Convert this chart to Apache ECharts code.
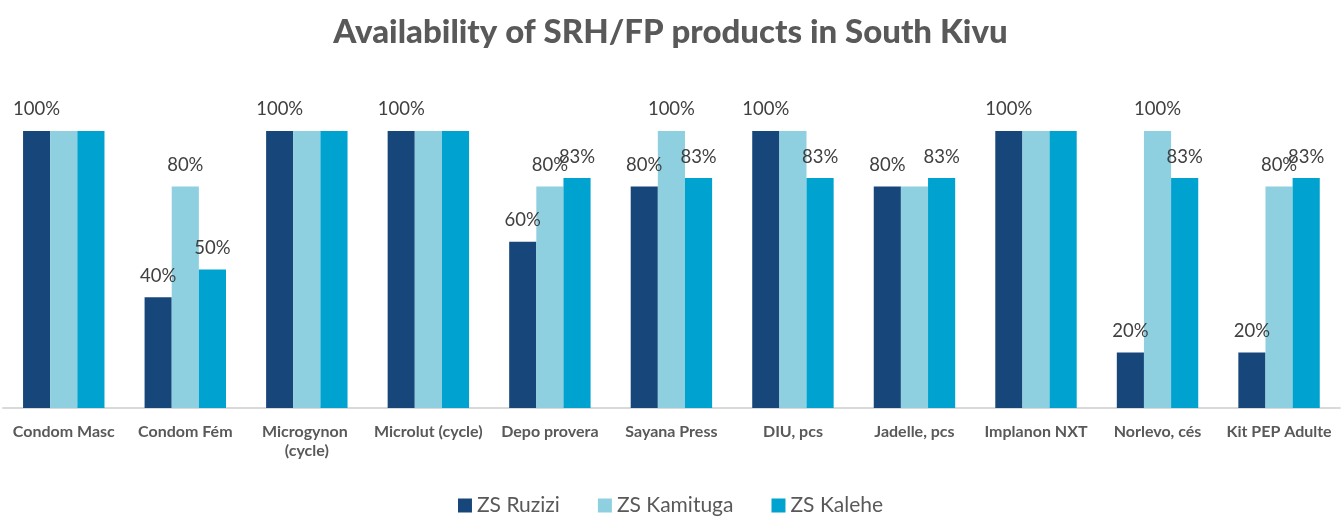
<!DOCTYPE html>
<html><head><meta charset="utf-8">
<script src="https://cdn.jsdelivr.net/npm/echarts@6/dist/echarts.min.js"></script>
<style>html,body{margin:0;padding:0;background:#fff}#c{width:1341px;height:520px}</style>
</head><body><div id="c"></div>
<script>
const categories = ["Condom Masc","Condom Fém","Microgynon (cycle)","Microlut (cycle)","Depo provera","Sayana Press","DIU, pcs","Jadelle, pcs","Implanon NXT","Norlevo, cés","Kit PEP Adulte"];
const seriesNames = ["ZS Ruzizi","ZS Kamituga","ZS Kalehe"];
const ruzizi   = [100,40,100,100,60,80,100,80,100,20,20];
const kamituga = [100,80,100,100,80,100,100,80,100,100,80];
const kalehe   = [100,50,100,100,83,83,83,83,100,83,83];
const colors = ["#17477A","#8ED0E0","#00A3D0"];
const all = [ruzizi, kamituga, kalehe];

function buildData(si){
  return all[si].map((v,ci)=>{
    let dup=false;
    for(let k=0;k<si;k++){ if(all[k][ci]===v) dup=true; }
    return {value:v, label:{show:!dup}};
  });
}

const chart = echarts.init(document.getElementById('c'));
chart.setOption({
  animation:false,
  textStyle:{fontFamily:'Lato'},
  title:{text:'Availability of SRH/FP products in South Kivu', left:'center', top:11,
    textStyle:{fontFamily:'Lato', fontSize:33, fontWeight:900, color:'#595959'}},
  legend:{bottom:-1, itemWidth:14, itemHeight:14, itemGap:38, icon:'rect',
    textStyle:{fontFamily:'Lato', fontSize:21, color:'#595959'}},
  grid:{left:3, right:0, top:131, bottom:112, containLabel:false},
  xAxis:{type:'category', data:categories,
    axisLine:{lineStyle:{color:'#D9D9D9', width:2}}, axisTick:{show:false},
    axisLabel:{interval:0, margin:14, fontFamily:'Lato', fontSize:16, fontWeight:'bold', color:'#595959',
      width:118, overflow:'break', lineHeight:19}},
  yAxis:{type:'value', min:0, max:100, show:false, splitLine:{show:false}},
  series: seriesNames.map((n,i)=>({
    name:n, type:'bar', data:buildData(i), barGap:'0%', barCategoryGap:'33%',
    itemStyle:{color:colors[i]},
    label:{position:'top', distance:12, formatter:'{c}%', fontFamily:'Lato', fontSize:18.5, color:'#404040'}
  }))
});
</script></body></html>
